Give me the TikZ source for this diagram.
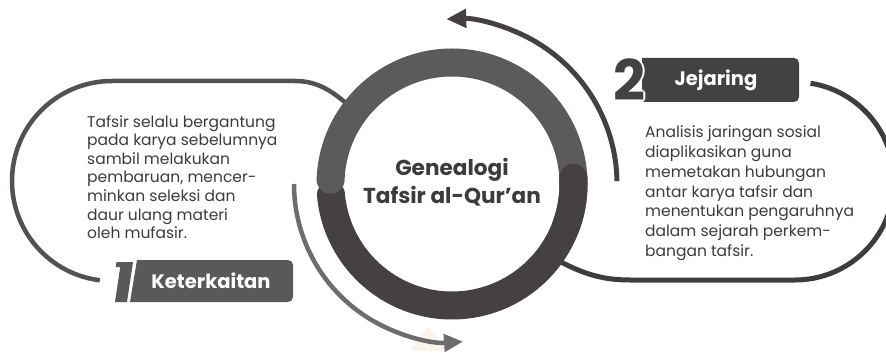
\documentclass[tikz,border=0pt]{standalone}
\usepackage{fontspec}
\setmainfont{Poppins}
\usetikzlibrary{arrows.meta}
\definecolor{ringlight}{HTML}{5C5A5B}
\definecolor{ringdark}{HTML}{454142}
\definecolor{boxone}{HTML}{5A5859}
\definecolor{boxtwo}{HTML}{444142}
\definecolor{lineone}{HTML}{535153}
\definecolor{linetwo}{HTML}{3F3C3D}
\definecolor{arrowlow}{HTML}{6E6D6E}
\definecolor{bodytext}{HTML}{3D3B3C}
\definecolor{beige}{HTML}{FAF4EC}
\tikzset{
  ringband/.style={line width=28pt, line cap=round},
  outline/.style={line width=4.5pt},
  toparrow/.style={line width=5pt, ringdark, -{Triangle[length=20pt,width=18pt]}},
  lowarrow/.style={line width=4.5pt, arrowlow, -{Triangle[length=19pt,width=17pt]}},
  bodyblock/.style={inner sep=0pt, align=left, text=bodytext, font=\fontsize{15.5}{18.6}\selectfont},
  labeltext/.style={inner sep=0pt, text=white, font=\bfseries\fontsize{19.5}{22}\selectfont},
  digit/.style={inner sep=0pt, font=\bfseries\fontsize{56}{56}\selectfont},
  titletext/.style={inner sep=0pt, align=center, text=bodytext, font=\bfseries\fontsize{21.6}{28}\selectfont}
}
\begin{document}
\begin{tikzpicture}[x=1pt,y=1pt]
\useasboundingbox (0,0) rectangle (886,351);
\fill[white] (0,0) rectangle (886,351);
\coordinate (c) at (452,167);
% faint watermark
\fill[beige] (410,0) -- (428,24) -- (452,0) -- cycle;
% left outline
\draw[outline, lineone] ([shift={(263:100)}]112,170) arc[start angle=263, end angle=90, radius=100]
  -- (295,270) .. controls (318,270) and (333,260) .. (355,240);
% right outline
\draw[outline, linetwo, line width=5pt] ([shift={(81:99)}]795,170) arc[start angle=81, end angle=-90, radius=99]
  -- (630,71) .. controls (600,71) and (580,78) .. (548,96);
% ring
\draw[ringband, ringdark] ([shift={(185:121.5)}]c) arc[start angle=185, end angle=363, radius=121.5];
\draw[ringband, ringlight] ([shift={(0:121.5)}]c) arc[start angle=0, end angle=178, radius=121.5];
\draw[ringband, ringdark] ([shift={(340:121.5)}]c) arc[start angle=340, end angle=363, radius=121.5];
\node[titletext] (title) at (452,169) {Genealogi\\Tafsir al-Qur’an};
% arrows
\draw[toparrow] ([shift={(1:165)}]c) coordinate (ta) arc[start angle=1, end angle=92, radius=165] coordinate (tb);
\draw[lowarrow] ([shift={(180:158)}]c) coordinate (la) arc[start angle=180, end angle=274, radius=158] coordinate (lb);
% box 1
\fill[boxone] (130,49) -- (137,91) -- (288,91) arc[start angle=90, end angle=0, radius=5]
  -- (293,54) arc[start angle=0, end angle=-90, radius=5] -- cycle;
\fill[boxone] (115,49) -- (127,49) -- (133,89) -- (116.5,89) -- (115.8,84) -- (120.25,84) -- cycle;
\node[labeltext] (lab1) at (211,70) {Keterkaitan};
% box 2
\fill[boxtwo] (642,249) -- (642,293) -- (794,293) arc[start angle=90, end angle=0, radius=5]
  -- (799,254) arc[start angle=0, end angle=-90, radius=5] -- cycle;
\foreach \a in {0,45,...,315} {
  \node[digit, text=white] (halo\a) at ([shift={(\a:2.2)}]629,271) {2};
}
\node[digit, text=boxtwo] (two) at (629,271) {2};
\node[labeltext] (lab2) at (716,271) {Jejaring};
% body texts
\node[bodyblock, anchor=north west] (leftbody) at (87,236) {Tafsir selalu bergantung\\pada karya sebelumnya\\sambil melakukan\\pembaruan, mencer-\\minkan seleksi dan\\daur ulang materi\\oleh mufasir.};
\node[bodyblock, anchor=north west, font=\fontsize{15.5}{19.7}\selectfont] (rightbody) at (645,225) {Analisis jaringan sosial\\diaplikasikan guna\\memetakan hubungan\\antar karya tafsir dan\\menentukan pengaruhnya\\dalam sejarah perkem-\\bangan tafsir.};
\end{tikzpicture}
\end{document}
